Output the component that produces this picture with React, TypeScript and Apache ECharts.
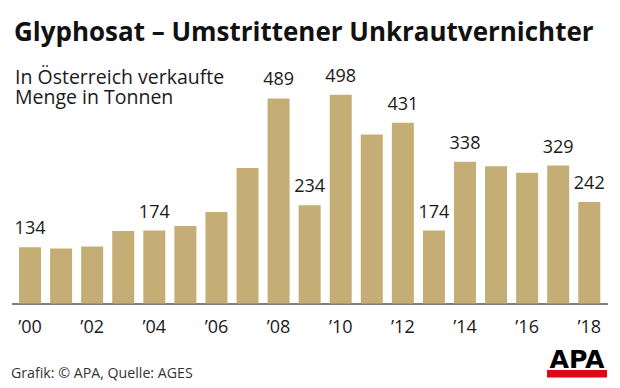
import React, { useEffect, useRef } from "react";
import * as echarts from "echarts";

const years = ["2000","2001","2002","2003","2004","2005","2006","2007","2008","2009","2010","2011","2012","2013","2014","2015","2016","2017","2018"];
const tickLabels = ["’00","’01","’02","’03","’04","’05","’06","’07","’08","’09","’10","’11","’12","’13","’14","’15","’16","’17","’18"];
const values = [134, 131, 136, 173, 174, 185, 218, 323, 489, 234, 498, 403, 431, 174, 338, 327, 312, 329, 242];
const labeledYears = ["2000","2004","2008","2009","2010","2012","2013","2014","2017","2018"];

const TITLE = "Glyphosat – Umstrittener Unkrautvernichter";
const SUBTITLE_1 = "In Österreich verkaufte";
const SUBTITLE_2 = "Menge in Tonnen";
const FOOTER = "Grafik: © APA, Quelle: AGES";

const BAR = "#c4ae76";
const FONT = "'Open Sans', 'Noto Sans', sans-serif";

export default function App() {
  const ref = useRef<HTMLDivElement>(null);
  useEffect(() => {
    if (!ref.current) return;
    const chart = echarts.init(ref.current, null, { renderer: "svg" });
    const data = values.map((v, i) => ({
      value: v,
      label: { show: labeledYears.includes(years[i]) },
    }));
    chart.setOption({
      animation: false,
      backgroundColor: "#ffffff",
      grid: { left: 14.5, right: 15.2, top: 93.8, bottom: 84.5, containLabel: false },
      xAxis: {
        type: "category",
        data: tickLabels,
        boundaryGap: true,
        axisLine: { show: false },
        axisTick: { show: false },
        axisLabel: {
          interval: 1,
          margin: 13,
          color: "#1a1a1a",
          fontFamily: FONT,
          fontSize: 18,
        },
      },
      yAxis: {
        type: "value",
        min: 0,
        max: 500,
        show: false,
        splitLine: { show: false },
      },
      series: [
        {
          type: "bar",
          data,
          barWidth: 22,
          itemStyle: { color: BAR },
          label: {
            position: "top",
            distance: 11,
            color: "#1a1a1a",
            fontFamily: FONT,
            fontSize: 18,
          },
        },
      ],
      graphic: [
        {
          type: "text",
          x: 14,
          y: 31,
          scaleX: 0.962,
          style: {
            text: TITLE,
            font: `bold 27px ${FONT}`,
            fill: "#111111",
            verticalAlign: "middle",
          },
        },
        {
          type: "text",
          x: 15,
          y: 76,
          style: {
            text: SUBTITLE_1,
            font: `19.5px ${FONT}`,
            lineHeight: 19,
            fill: "#1a1a1a",
            verticalAlign: "middle",
          },
        },
        {
          type: "text",
          x: 15,
          y: 96,
          style: {
            text: SUBTITLE_2,
            font: `19.5px ${FONT}`,
            lineHeight: 19,
            fill: "#1a1a1a",
            verticalAlign: "middle",
          },
        },
        {
          type: "line",
          shape: { x1: 12, y1: 304, x2: 608, y2: 304 },
          style: { stroke: "#555555", lineWidth: 1.5 },
        },
        {
          type: "text",
          x: 11,
          y: 372,
          style: {
            text: FOOTER,
            font: `14.2px ${FONT}`,
            fill: "#333333",
            verticalAlign: "middle",
          },
        },
        {
          type: "rect",
          shape: { x: 547, y: 370, width: 60, height: 7.5 },
          style: { fill: "#e30613" },
        },
        {
          type: "text",
          x: 577,
          y: 372,
          scaleX: 1.05,
          style: {
            text: "APA",
            font: `900 24px 'DejaVu Sans', sans-serif`,
            fill: "#000000",
            align: "center",
            verticalAlign: "bottom",
          },
        },
      ],
    });
    return () => chart.dispose();
  }, []);
  return (
    <div
      ref={ref}
      style={{ position: "absolute", left: 0, top: 0, width: 620, height: 388 }}
    />
  );
}
